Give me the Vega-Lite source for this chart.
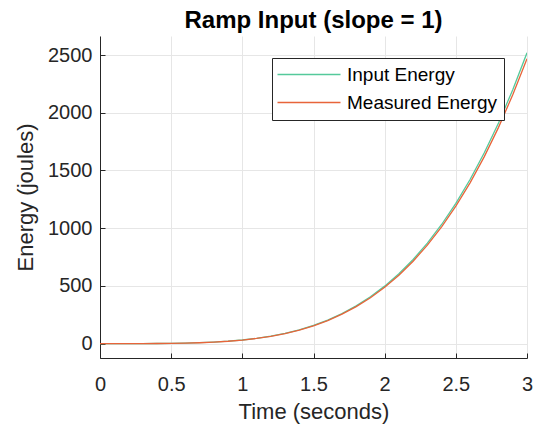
{
  "$schema": "https://vega.github.io/schema/vega-lite/v6.json",
  "autosize": {"type": "none"},
  "padding": {"left": 100, "top": 36, "right": 12, "bottom": 75},
  "width": 427,
  "height": 322,
  "background": "white",
  "title": {"text": "Ramp Input (slope = 1)", "fontSize": 24, "fontWeight": "bold", "font": "Liberation Sans", "color": "#000000", "anchor": "middle", "offset": 3},
  "config": {
    "view": {"stroke": null},
    "font": "Liberation Sans"
  },
  "data": {"values": [
    {"t": 0, "E": 0, "s": "Input Energy"},
    {"t": 0.1, "E": 0.003, "s": "Input Energy"},
    {"t": 0.2, "E": 0.05, "s": "Input Energy"},
    {"t": 0.3, "E": 0.25, "s": "Input Energy"},
    {"t": 0.4, "E": 0.8, "s": "Input Energy"},
    {"t": 0.5, "E": 1.94, "s": "Input Energy"},
    {"t": 0.6, "E": 4.03, "s": "Input Energy"},
    {"t": 0.7, "E": 7.47, "s": "Input Energy"},
    {"t": 0.8, "E": 12.74, "s": "Input Energy"},
    {"t": 0.9, "E": 20.4, "s": "Input Energy"},
    {"t": 1.0, "E": 31.1, "s": "Input Energy"},
    {"t": 1.1, "E": 45.5, "s": "Input Energy"},
    {"t": 1.2, "E": 64.5, "s": "Input Energy"},
    {"t": 1.3, "E": 88.8, "s": "Input Energy"},
    {"t": 1.4, "E": 119.5, "s": "Input Energy"},
    {"t": 1.5, "E": 157.4, "s": "Input Energy"},
    {"t": 1.6, "E": 203.8, "s": "Input Energy"},
    {"t": 1.7, "E": 259.8, "s": "Input Energy"},
    {"t": 1.8, "E": 326.5, "s": "Input Energy"},
    {"t": 1.9, "E": 405.3, "s": "Input Energy"},
    {"t": 2.0, "E": 497.6, "s": "Input Energy"},
    {"t": 2.1, "E": 604.8, "s": "Input Energy"},
    {"t": 2.2, "E": 728.5, "s": "Input Energy"},
    {"t": 2.3, "E": 870.3, "s": "Input Energy"},
    {"t": 2.4, "E": 1031.8, "s": "Input Energy"},
    {"t": 2.5, "E": 1214.8, "s": "Input Energy"},
    {"t": 2.6, "E": 1421.2, "s": "Input Energy"},
    {"t": 2.7, "E": 1652.8, "s": "Input Energy"},
    {"t": 2.8, "E": 1911.6, "s": "Input Energy"},
    {"t": 2.9, "E": 2199.6, "s": "Input Energy"},
    {"t": 3.0, "E": 2519.1, "s": "Input Energy"},
    {"t": 0, "E": 0, "s": "Measured Energy"},
    {"t": 0.1, "E": 0.003, "s": "Measured Energy"},
    {"t": 0.2, "E": 0.05, "s": "Measured Energy"},
    {"t": 0.3, "E": 0.25, "s": "Measured Energy"},
    {"t": 0.4, "E": 0.78, "s": "Measured Energy"},
    {"t": 0.5, "E": 1.9, "s": "Measured Energy"},
    {"t": 0.6, "E": 3.95, "s": "Measured Energy"},
    {"t": 0.7, "E": 7.32, "s": "Measured Energy"},
    {"t": 0.8, "E": 12.49, "s": "Measured Energy"},
    {"t": 0.9, "E": 19.99, "s": "Measured Energy"},
    {"t": 1.0, "E": 30.5, "s": "Measured Energy"},
    {"t": 1.1, "E": 44.6, "s": "Measured Energy"},
    {"t": 1.2, "E": 63.2, "s": "Measured Energy"},
    {"t": 1.3, "E": 87.0, "s": "Measured Energy"},
    {"t": 1.4, "E": 117.1, "s": "Measured Energy"},
    {"t": 1.5, "E": 154.3, "s": "Measured Energy"},
    {"t": 1.6, "E": 199.7, "s": "Measured Energy"},
    {"t": 1.7, "E": 254.6, "s": "Measured Energy"},
    {"t": 1.8, "E": 320.0, "s": "Measured Energy"},
    {"t": 1.9, "E": 397.2, "s": "Measured Energy"},
    {"t": 2.0, "E": 487.6, "s": "Measured Energy"},
    {"t": 2.1, "E": 592.7, "s": "Measured Energy"},
    {"t": 2.2, "E": 713.9, "s": "Measured Energy"},
    {"t": 2.3, "E": 852.9, "s": "Measured Energy"},
    {"t": 2.4, "E": 1011.2, "s": "Measured Energy"},
    {"t": 2.5, "E": 1190.5, "s": "Measured Energy"},
    {"t": 2.6, "E": 1392.8, "s": "Measured Energy"},
    {"t": 2.7, "E": 1619.7, "s": "Measured Energy"},
    {"t": 2.8, "E": 1873.4, "s": "Measured Energy"},
    {"t": 2.9, "E": 2155.6, "s": "Measured Energy"},
    {"t": 3.0, "E": 2468.7, "s": "Measured Energy"}
  ]},
  "mark": {"type": "line", "strokeWidth": 1.3, "clip": true},
  "encoding": {
    "x": {
      "field": "t", "type": "quantitative",
      "scale": {"domain": [0, 3], "nice": false, "zero": false},
      "axis": {
        "title": "Time (seconds)", "titleFontSize": 22, "titleFontWeight": "normal", "titleColor": "#262626", "titlePadding": 7,
        "values": [0, 0.5, 1, 1.5, 2, 2.5, 3], "format": "~g",
        "labelFontSize": 20, "labelColor": "#262626", "labelPadding": 21, "labelFlush": false,
        "domainColor": "#262626", "domainWidth": 1, "tickColor": "#262626", "tickSize": -5,
        "grid": true, "gridColor": "#e6e6e6", "gridWidth": 1
      }
    },
    "y": {
      "field": "E", "type": "quantitative",
      "scale": {"domain": [-125, 2665], "nice": false, "zero": false},
      "axis": {
        "title": "Energy (joules)", "titleFontSize": 22, "titleFontWeight": "normal", "titleColor": "#262626", "titlePadding": 10,
        "values": [0, 500, 1000, 1500, 2000, 2500], "format": "d",
        "labelFontSize": 20, "labelColor": "#262626", "labelPadding": 13,
        "domainColor": "#262626", "domainWidth": 1, "tickColor": "#262626", "tickSize": -5,
        "grid": true, "gridColor": "#e6e6e6", "gridWidth": 1
      }
    },
    "color": {
      "field": "s", "type": "nominal",
      "scale": {"domain": ["Input Energy", "Measured Energy"], "range": ["#55c99b", "#e8643a"]},
      "legend": {
        "title": null, "orient": "none", "legendX": 172, "legendY": 22,
        "symbolType": "M-2.2,0H10.4", "symbolSize": 100, "symbolStrokeWidth": 1.3, "symbolFillColor": "transparent",
        "labelFontSize": 19, "labelColor": "#000000", "labelOffset": 49,
        "strokeColor": "#262626", "fillColor": "white", "padding": 7, "rowPadding": 8
      }
    }
  }
}
